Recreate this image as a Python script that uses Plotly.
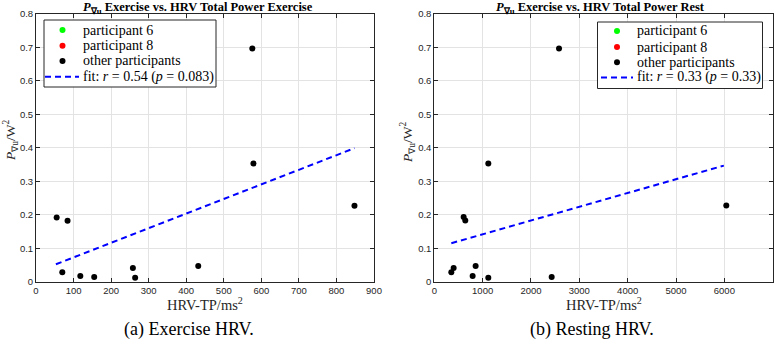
import plotly.graph_objects as go

# Exercise HRV (left)
ex_x = [55, 84, 70, 118, 155, 258, 264, 432, 579, 576, 848]
ex_y = [0.192, 0.182, 0.028, 0.017, 0.014, 0.041, 0.012, 0.047, 0.353, 0.697, 0.227]
ex_fit_x = [53, 848]
ex_fit_y = [0.052, 0.399]
ex_fit_label = "fit: <i>r</i> = 0.54 (<i>p</i> = 0.083)"

# Resting HRV (right)
rest_x = [352, 400, 607, 641, 793, 855, 1117, 1117, 2428, 6040, 2580]
rest_y = [0.028, 0.041, 0.193, 0.183, 0.017, 0.047, 0.353, 0.012, 0.014, 0.228, 0.697]
rest_fit_x = [352, 5990]
rest_fit_y = [0.115, 0.347]
rest_fit_label = "fit: <i>r</i> = 0.33 (<i>p</i> = 0.33)"

ex_xticks = [0, 100, 200, 300, 400, 500, 600, 700, 800, 900]
rest_xticks = [0, 1000, 2000, 3000, 4000, 5000, 6000, 7000]
yticks = [0, 0.1, 0.2, 0.3, 0.4, 0.5, 0.6, 0.7, 0.8]

legend_names = ["participant 6", "participant 8", "other participants"]
legend_colors = ["#00FF00", "#FF0000", "black"]

titles = ["<b><i>P</i><sub>∇u</sub> Exercise vs. HRV Total Power Exercise</b>",
          "<b><i>P</i><sub>∇u</sub> Exercise vs. HRV Total Power Rest</b>"]
captions = ["(a) Exercise HRV.", "(b) Resting HRV."]
ytitle = "<i>P</i><sub>∇u</sub>/W<sup>2</sup>"
xtitle = "HRV-TP/ms<sup>2</sup>"

W, H = 783, 339
SERIF = "Liberation Serif"
SANS = "Liberation Sans"
AX = "#262626"


def px(x):
    return x / W


def py(y):
    return 1 - y / H


fig = go.Figure()


def add_panel(xs, ys, fx, fy, flabel, xaxis, yaxis):
    common = dict(xaxis=xaxis, yaxis=yaxis, showlegend=False)
    fig.add_trace(go.Scatter(x=xs, y=ys, mode="markers", name="other participants",
                             marker=dict(color="black", size=6), **common))
    fig.add_trace(go.Scatter(x=fx, y=fy, mode="lines", name=flabel,
                             line=dict(color="#0000FF", width=2, dash="6px,4px"), **common))


add_panel(ex_x, ex_y, ex_fit_x, ex_fit_y, ex_fit_label, "x", "y")
add_panel(rest_x, rest_y, rest_fit_x, rest_fit_y, rest_fit_label, "x2", "y2")

ydom = [py(281.7), py(14)]
axis_common = dict(showgrid=True, gridcolor="#E3E3E3", gridwidth=1, zeroline=False,
                   showline=True, linecolor=AX, linewidth=1, mirror="ticks",
                   ticks="inside", ticklen=4, tickcolor=AX, automargin=False,
                   tickfont=dict(family=SANS, size=9.5, color=AX))

fig.update_layout(
    width=W, height=H, autosize=False,
    margin=dict(l=0, r=0, t=0, b=0, pad=0, autoexpand=False),
    paper_bgcolor="white", plot_bgcolor="white",
    showlegend=False,
    xaxis=dict(domain=[px(36), px(374)], range=[0, 900], tickvals=ex_xticks,
               anchor="y", **axis_common),
    yaxis=dict(domain=ydom, range=[0, 0.8], tickvals=yticks, tickformat=".1~f",
               anchor="x", **axis_common),
    xaxis2=dict(domain=[px(434.3), px(772.7)], range=[0, 7000], tickvals=rest_xticks,
                anchor="y2", **axis_common),
    yaxis2=dict(domain=ydom, range=[0, 0.8], tickvals=yticks, tickformat=".1~f",
                anchor="x2", **axis_common),
)

# Panel texts: titles, axis labels, captions, legend
panels = [
    dict(title_x=198, xlab_x=205, ylab_x=10, ylab_y=141, cap_x=188.5,
         box=(44, 216, 20, 87), rows=[30, 45.7, 61, 76.7], mark_x=62.5, text_x=80.5,
         dash=(45, 79), fit=ex_fit_label),
    dict(title_x=600, xlab_x=604, ylab_x=407, ylab_y=143, cap_x=592,
         box=(597.5, 762.5, 22, 88.5), rows=[31, 47, 62.3, 77.5], mark_x=617, text_x=635,
         dash=(601, 633), fit=rest_fit_label),
]

for p, t, c in zip(panels, titles, captions):
    fig.add_annotation(text=t, x=px(p["title_x"]), y=py(8), xref="paper", yref="paper",
                       showarrow=False, font=dict(family=SERIF, size=12.5, color="black"),
                       xanchor="center", yanchor="middle")
    fig.add_annotation(text=xtitle, x=px(p["xlab_x"]), y=py(304), xref="paper", yref="paper",
                       showarrow=False, font=dict(family=SERIF, size=14.5, color=AX),
                       xanchor="center", yanchor="middle")
    fig.add_annotation(text=ytitle, x=px(p["ylab_x"]), y=py(p["ylab_y"]), xref="paper",
                       yref="paper", showarrow=False, textangle=-90,
                       font=dict(family=SERIF, size=13.5, color=AX),
                       xanchor="center", yanchor="middle")
    fig.add_annotation(text=c, x=px(p["cap_x"]), y=py(329), xref="paper", yref="paper",
                       showarrow=False, font=dict(family=SERIF, size=18, color="black"),
                       xanchor="center", yanchor="middle")

    x0, x1, y0, y1 = p["box"]
    fig.add_shape(type="rect", xref="paper", yref="paper",
                  x0=px(x0), x1=px(x1), y0=py(y1), y1=py(y0),
                  line=dict(color=AX, width=1), fillcolor="white", layer="above")
    labels = legend_names + [p["fit"]]
    for i, (ry, lab) in enumerate(zip(p["rows"], labels)):
        if i < 3:
            r = 3
            fig.add_shape(type="circle", xref="paper", yref="paper",
                          x0=px(p["mark_x"] - r), x1=px(p["mark_x"] + r),
                          y0=py(ry + r), y1=py(ry - r),
                          line=dict(color=legend_colors[i], width=0),
                          fillcolor=legend_colors[i], layer="above")
        else:
            d0, d1 = p["dash"]
            fig.add_shape(type="line", xref="paper", yref="paper",
                          x0=px(d0), x1=px(d1), y0=py(ry), y1=py(ry),
                          line=dict(color="#0000FF", width=2, dash="6px,4px"), layer="above")
        fig.add_annotation(text=lab, x=px(p["text_x"]), y=py(ry), xref="paper", yref="paper",
                           showarrow=False, font=dict(family=SERIF, size=14, color="black"),
                           xanchor="left", yanchor="middle", align="left")

fig.write_html(
    "out.html",
    config={"responsive": False, "displayModeBar": False},
    post_script="document.body.style.margin='0';document.body.style.overflow='hidden';",
)
